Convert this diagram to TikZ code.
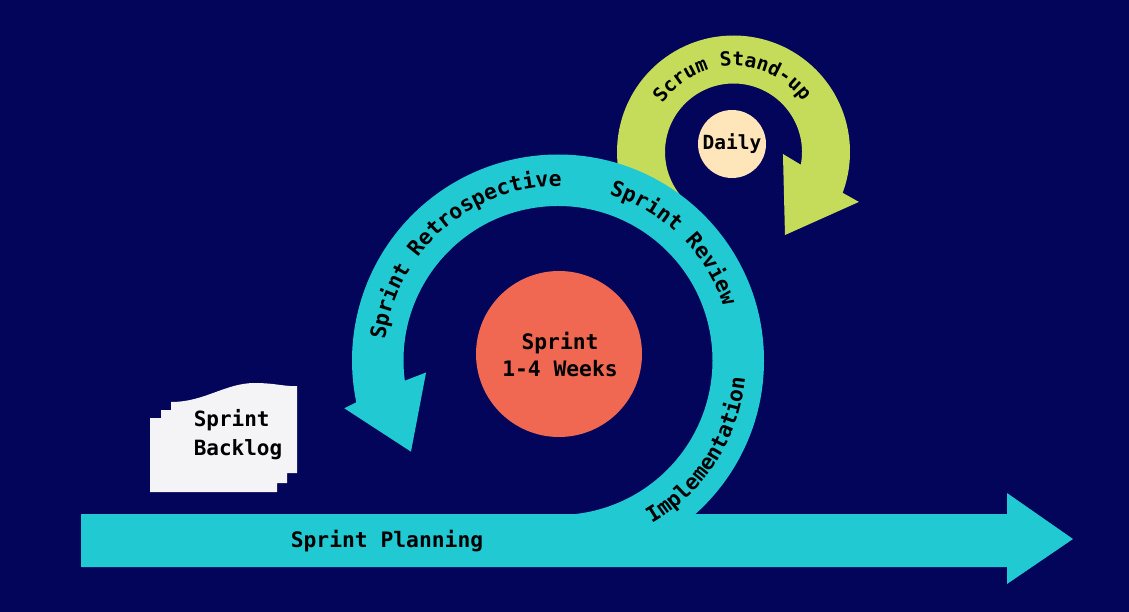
\documentclass[tikz,border=0pt]{standalone}
\usepackage{fontspec}
\setmonofont{DejaVu Sans Mono}
\usetikzlibrary{decorations.text,calc}
\definecolor{bgc}{RGB}{2,5,89}
\definecolor{cyanc}{RGB}{33,201,211}
\definecolor{limec}{RGB}{196,220,90}
\definecolor{salmonc}{RGB}{240,104,82}
\definecolor{dailyc}{RGB}{255,229,185}
\definecolor{paperc}{RGB}{244,244,246}
\newcommand\lbfont{\fontsize{21.3}{27}\selectfont\ttfamily\bfseries}
\newcommand\lsfont{\fontsize{19.5}{24}\selectfont\ttfamily\bfseries}
\tikzset{
  ringtext/.style={decorate, decoration={text along path, text align=center, text={#1}}},
  lbl/.style={font=\lbfont, text=black, align=center, inner sep=0pt},
}
\begin{document}
\begin{tikzpicture}[x=1pt,y=1pt]
\useasboundingbox (0,0) rectangle (1129,-612);
\fill[bgc] (0,0) rectangle (1129,-612);
\coordinate (C) at (558,-360.5);
\coordinate (L) at (733.5,-152);
% lime stand-up arrow
\fill[limec] ($(L)+(222:116.5)$) arc[start angle=222,end angle=-20.5,radius=116.5]
  -- ($(L)+(-21.7:135)$) -- ($(L)+(-58.2:97.7)$) -- ($(L)+(-2.3:49.5)$)
  -- ($(L)+(-10.7:68.5)$) arc[start angle=-10.7,end angle=222,radius=68.5] -- cycle;
% cyan sprint ring
\fill[cyanc] ($(C)+(-90:206)$) arc[start angle=-90,end angle=191.7,radius=206]
  -- ($(C)+(192.6:219)$) -- ($(C)+(211.8:173)$) -- ($(C)+(185.2:132.5)$)
  -- ($(C)+(187.5:154.5)$) arc[start angle=187.5,end angle=-90,radius=154.5] -- cycle;
% planning bar
\fill[cyanc] (81,-514) -- (1007,-514) -- (1007,-493) -- (1073,-539) -- (1007,-584)
  -- (1007,-567) -- (81,-567) -- cycle;
% backlog document stack
\fill[paperc] (150,-418) -- (161,-418) -- (161,-410) -- (171,-410) -- (171,-402)
  .. controls (205,-402) and (225,-383) .. (255,-383)
  .. controls (275,-383) and (287,-387) .. (297,-386)
  -- (297,-473) -- (287,-473) -- (287,-483) -- (277,-483) -- (277,-492) -- (150,-492) -- cycle;
% circles
\node[circle, fill=salmonc, minimum size=166pt, inner sep=0pt] (sprint) at (559,-354) {};
\node[circle, fill=dailyc, minimum size=68pt, inner sep=0pt] (daily) at (732,-144) {};
% labels
\node[lbl] (sprinttxt) at (560,-354) {Sprint\\1-4 Weeks};
\node[lbl, font=\lsfont] (dailytxt) at (732,-144) {Daily};
\node[lbl, align=left, font=\fontsize{21}{29}\selectfont\ttfamily\bfseries] (backlog) at (238,-435) {Sprint\\Backlog};
\node[lbl] (planning) at (387,-541) {Sprint Planning};
% ring texts
\path[ringtext={|\lbfont|Sprint Retrospective}] ($(C)+(176:174)$) arc[start angle=176,end angle=86,radius=174];
\path[ringtext={|\lbfont|Sprint Review}] ($(C)+(80:174)$) arc[start angle=80,end angle=11,radius=174];
\path[ringtext={|\lbfont|Implementation}] ($(C)+(-73:188)$) arc[start angle=-73,end angle=7.6,radius=188];
\path[ringtext={|\lsfont|Scrum Stand-up}] ($(L)+(150:86)$) arc[start angle=150,end angle=32,radius=86];
\end{tikzpicture}
\end{document}
